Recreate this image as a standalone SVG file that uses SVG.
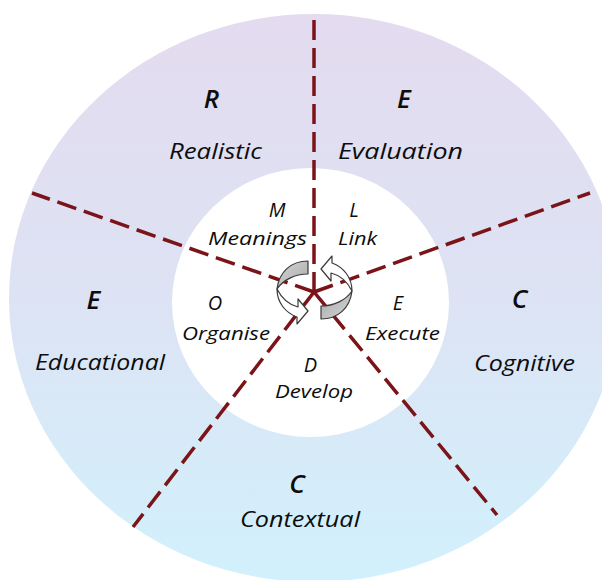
<svg xmlns="http://www.w3.org/2000/svg" width="602" height="580" viewBox="0 0 602 580">
<defs>
<linearGradient id="bg" x1="0" y1="0" x2="0" y2="1">
<stop offset="0" stop-color="#e4dbef"/>
<stop offset="0.5" stop-color="#dde3f4"/>
<stop offset="1" stop-color="#d1f1fc"/>
</linearGradient>
<linearGradient id="gr" x1="0" y1="0" x2="1" y2="1">
<stop offset="0" stop-color="#d6d6d6"/>
<stop offset="1" stop-color="#a8a8a8"/>
</linearGradient>
<style>
.t{font-family:"Open Sans","Noto Sans","Liberation Sans",sans-serif;font-style:italic;fill:#0d0d0d;text-anchor:middle;font-variant-ligatures:none}
.ol{font-size:26px;font-weight:600}
.ow{font-size:22px}
.il{font-size:20px}
.iw{font-size:18px}
.dash{stroke:#7a1418;stroke-width:3.5;stroke-dasharray:20 8;fill:none}
.arr{stroke:#3a3a3a;stroke-width:1.2;stroke-linejoin:round}
</style>
</defs>
<rect width="602" height="580" fill="#ffffff"/>
<ellipse id="outer-ring" cx="314" cy="298" rx="305" ry="284" fill="url(#bg)"/>
<ellipse id="inner-circle" cx="310.5" cy="302.5" rx="138.5" ry="134.5" fill="#ffffff"/>
<g id="connectors">
<line class="dash" x1="314" y1="292" x2="314" y2="14"/>
<line class="dash" x1="314" y1="292" x2="32" y2="193"/>
<line class="dash" x1="314" y1="292" x2="590" y2="193"/>
<line class="dash" x1="314" y1="292" x2="133" y2="527"/>
<line class="dash" x1="314" y1="292" x2="497" y2="515"/>
</g>
<g id="cycle-icon">
<g id="arrow-left">
<path class="arr" fill="url(#gr)" d="M308,261 C291,261 279,272 277,289 C283,280 295,274 308,274 Z"/>
<path class="arr" fill="#ffffff" d="M277,289 C277,303 286,313 297,317 L297,324 L308,311 L298,299 L298,307 C290,305 282,299 277,289 Z"/>
</g>
<g id="arrow-right" transform="rotate(180 314.5 290)">
<path class="arr" fill="url(#gr)" d="M308,261 C291,261 279,272 277,289 C283,280 295,274 308,274 Z"/>
<path class="arr" fill="#ffffff" d="M277,289 C277,303 286,313 297,317 L297,324 L308,311 L298,299 L298,307 C290,305 282,299 277,289 Z"/>
</g>
</g>
<g id="realistic">
<text class="t ol" x="211.5" y="108">R</text>
<text class="t ow" x="215.5" y="159" textLength="93" lengthAdjust="spacingAndGlyphs">Realistic</text>
</g>
<g id="evaluation">
<text class="t ol" x="404" y="108">E</text>
<text class="t ow" x="400.5" y="159" textLength="125" lengthAdjust="spacingAndGlyphs">Evaluation</text>
</g>
<g id="educational">
<text class="t ol" x="93.5" y="309">E</text>
<text class="t ow" x="100" y="370" textLength="130" lengthAdjust="spacingAndGlyphs">Educational</text>
</g>
<g id="cognitive">
<text class="t ol" x="519.5" y="308">C</text>
<text class="t ow" x="524.5" y="371" textLength="101" lengthAdjust="spacingAndGlyphs">Cognitive</text>
</g>
<g id="contextual">
<text class="t ol" x="297" y="493">C</text>
<text class="t ow" x="300" y="527" textLength="120" lengthAdjust="spacingAndGlyphs">Contextual</text>
</g>
<g id="meanings">
<text class="t il" x="277" y="217">M</text>
<text class="t iw" x="257.5" y="245" textLength="99" lengthAdjust="spacingAndGlyphs">Meanings</text>
</g>
<g id="link">
<text class="t il" x="354" y="217">L</text>
<text class="t iw" x="357.5" y="245" textLength="39" lengthAdjust="spacingAndGlyphs">Link</text>
</g>
<g id="organise">
<text class="t il" x="215" y="310">O</text>
<text class="t iw" x="226" y="340" textLength="88" lengthAdjust="spacingAndGlyphs">Organise</text>
</g>
<g id="execute">
<text class="t il" x="398" y="310">E</text>
<text class="t iw" x="402.5" y="340" textLength="75" lengthAdjust="spacingAndGlyphs">Execute</text>
</g>
<g id="develop">
<text class="t il" x="310.5" y="372">D</text>
<text class="t iw" x="314" y="398" textLength="78" lengthAdjust="spacingAndGlyphs">Develop</text>
</g>
</svg>
